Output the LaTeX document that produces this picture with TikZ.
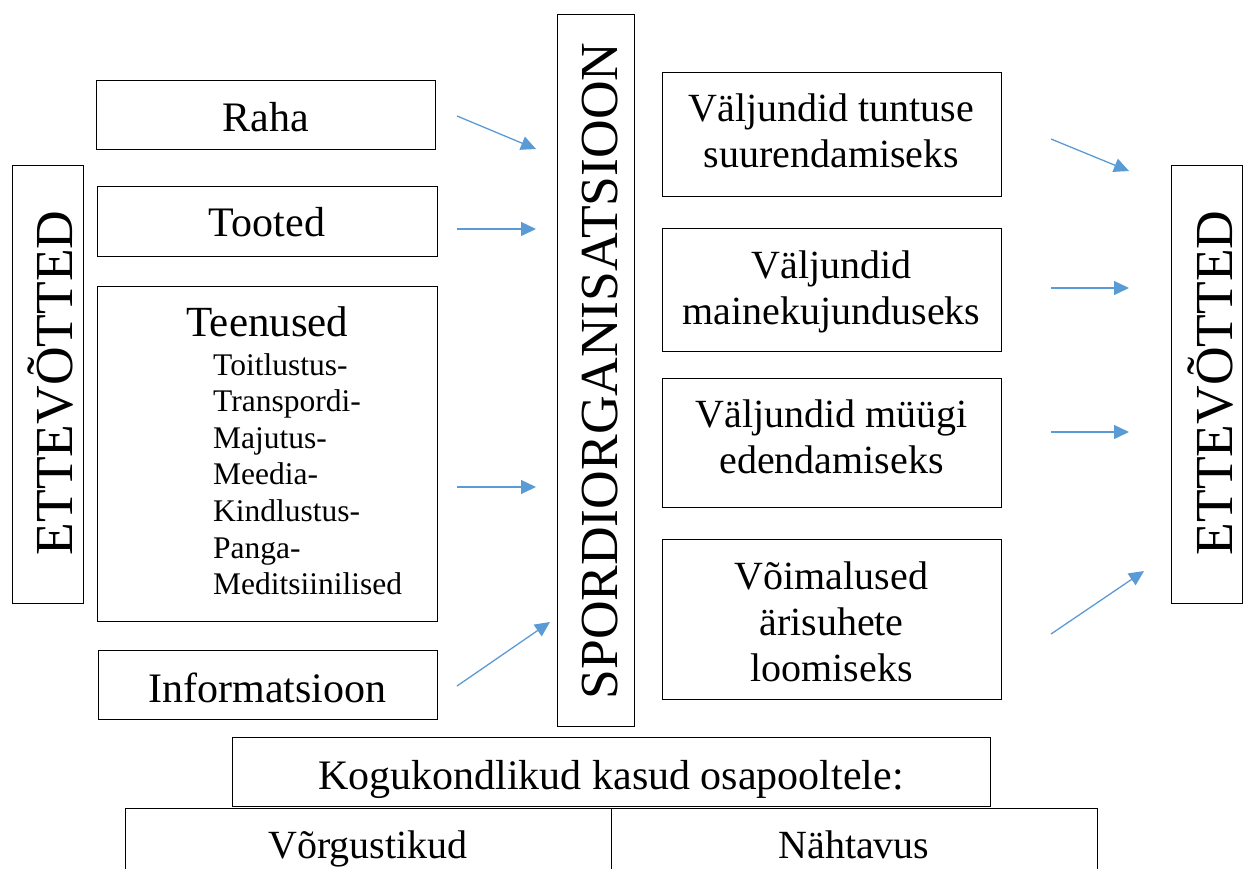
\documentclass[tikz,border=0pt]{standalone}
\usepackage{fontspec}
\setmainfont{Liberation Serif}
\usetikzlibrary{arrows.meta}
\definecolor{arrowblue}{RGB}{91,155,213}
\begin{document}
\begin{tikzpicture}[x=1pt,y=-1pt,
  box/.style={draw, line width=1pt, inner sep=0pt},
  lbl/.style={inner sep=0pt, anchor=base, font=\fontsize{42}{48}\selectfont},
  rlbl/.style={inner sep=0pt, anchor=north, align=center, font=\fontsize{40}{46}\selectfont},
  sub/.style={inner sep=0pt, anchor=base west, font=\fontsize{31.5}{36}\selectfont},
  vert/.style={inner sep=0pt, anchor=base, rotate=90, font=\fontsize{53.5}{60}\selectfont},
  arr/.style={draw=arrowblue, line width=1.3pt, -{Triangle[length=15pt,width=14pt]}}]
\useasboundingbox (0,0) rectangle (1244,868);
\clip (0,0) rectangle (1244,868);

% vertical boxes
\node[box, minimum width=71pt, minimum height=438pt] (leftbox) at (47.5,384) {};
\node[vert] (lefttext) at (72,383) {ETTEVÕTTED};
\node[box, minimum width=71pt, minimum height=438pt] (rightbox) at (1206.5,384) {};
\node[vert] (righttext) at (1232,383) {ETTEVÕTTED};
\node[box, minimum width=77pt, minimum height=712pt] (sportbox) at (595.5,370) {};
\node[vert] (sporttext) at (617,371) {SPORDIORGANISATSIOON};

% left column
\node[box, minimum width=339pt, minimum height=69pt] (raha) at (265.5,114.5) {};
\node[lbl] (rahat) at (265.5,131) {Raha};
\node[box, minimum width=340pt, minimum height=70pt] (tooted) at (267,221) {};
\node[lbl] (tootedt) at (267,236) {Tooted};
\node[box, minimum width=340pt, minimum height=335pt] (teenused) at (267,453.5) {};
\node[lbl, font=\fontsize{43}{48}\selectfont] (teenusedt) at (267.5,336) {Teenused};
\foreach \t [count=\i from 0] in {Toitlustus-,Transpordi-,Majutus-,Meedia-,Kindlustus-,Panga-,Meditsiinilised}
  \node[sub] (sub\i) at (213,375+36.6*\i) {\t};
\node[box, minimum width=339pt, minimum height=69pt] (info) at (267.5,684.5) {};
\node[lbl] (infot) at (267.5,702) {Informatsioon};

% right column
\node[box, minimum width=339pt, minimum height=124pt] (r1) at (831.5,134) {};
\node[rlbl] (r1t) at (831.5,121-27.3) {Väljundid tuntuse\\suurendamiseks};
\node[box, minimum width=339pt, minimum height=123pt] (r2) at (831.5,289.5) {};
\node[rlbl] (r2t) at (831.5,278-27.3) {Väljundid\\mainekujunduseks};
\node[box, minimum width=339pt, minimum height=129pt] (r3) at (831.5,442.5) {};
\node[rlbl] (r3t) at (831.5,427-27.3) {Väljundid müügi\\edendamiseks};
\node[box, minimum width=339pt, minimum height=160pt] (r4) at (831.5,619) {};
\node[rlbl] (r4t) at (831.5,589-27.3) {Võimalused\\ärisuhete\\loomiseks};

% bottom
\node[box, minimum width=758pt, minimum height=69pt] (kogu) at (611,771.5) {};
\node[lbl] (kogut) at (611,789) {Kogukondlikud kasud osapooltele:};
\node[box, minimum width=486pt, minimum height=100pt] (vorg) at (368,858) {};
\node[lbl, font=\fontsize{40}{46}\selectfont] (vorgt) at (368,858) {Võrgustikud};
\node[box, minimum width=486pt, minimum height=100pt] (naht) at (854,858) {};
\node[lbl, font=\fontsize{40}{46}\selectfont] (nahtt) at (854,858) {Nähtavus};

% arrows
\coordinate (a1s) at (457,116); \coordinate (a1e) at (536,149);
\coordinate (a2s) at (457,229); \coordinate (a2e) at (536,229);
\coordinate (a3s) at (457,487); \coordinate (a3e) at (536,487);
\coordinate (a4s) at (457,686); \coordinate (a4e) at (550,622);
\coordinate (b1s) at (1051,139); \coordinate (b1e) at (1129,171);
\coordinate (b2s) at (1051,288); \coordinate (b2e) at (1129,288);
\coordinate (b3s) at (1051,432); \coordinate (b3e) at (1129,432);
\coordinate (b4s) at (1051,634); \coordinate (b4e) at (1144,571);
\foreach \p in {a1,a2,a3,a4,b1,b2,b3,b4}
  \draw[arr] (\p s) -- (\p e);
\end{tikzpicture}
\end{document}
